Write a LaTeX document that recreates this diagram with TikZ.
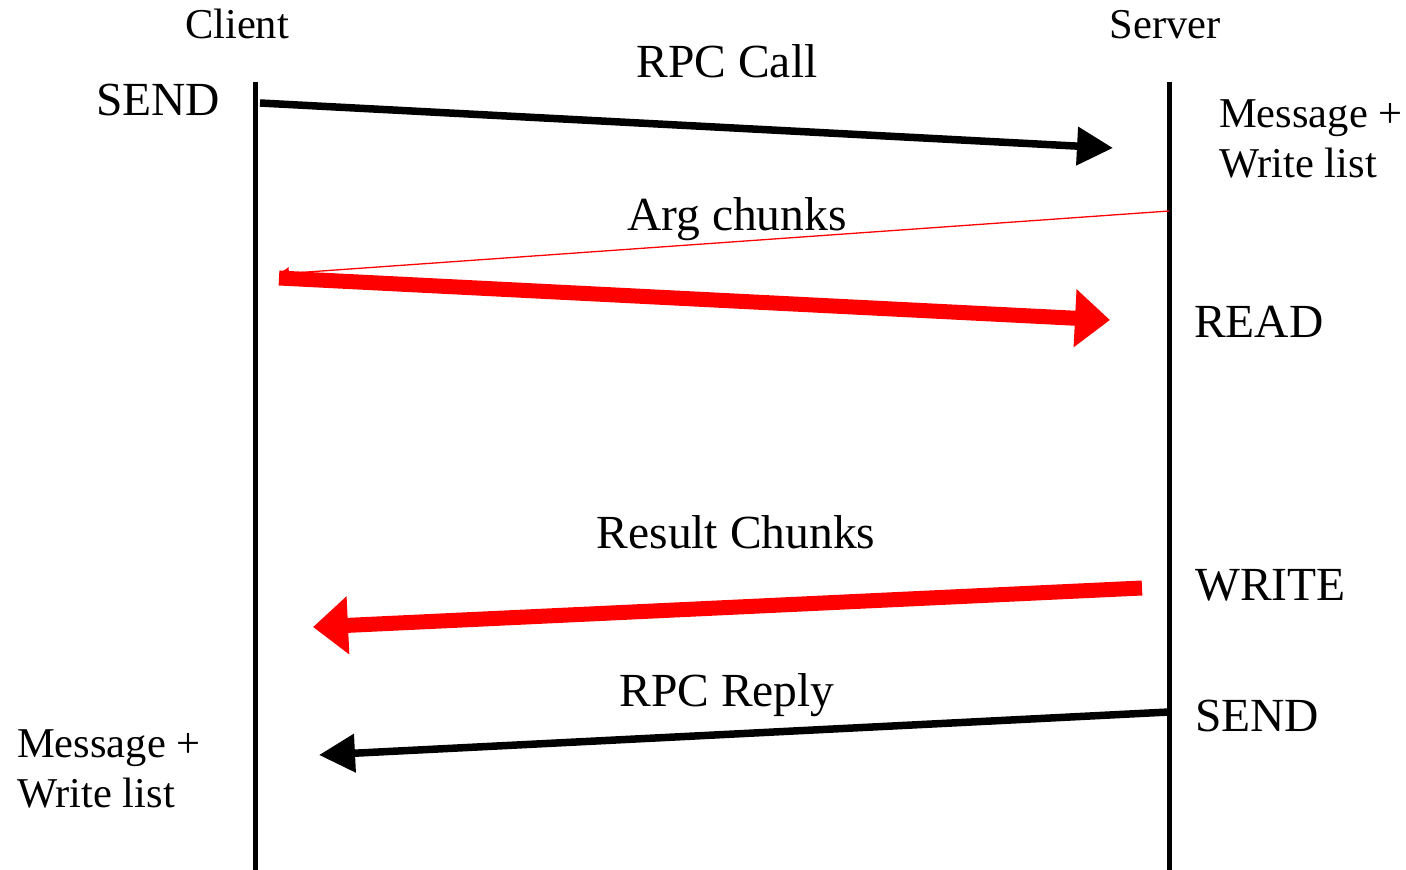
\documentclass[tikz,border=0pt]{standalone}
\usepackage{fontspec}
\setmainfont{Liberation Serif}
\usetikzlibrary{arrows.meta}
\begin{document}
\begin{tikzpicture}[x=1pt,y=-1pt,
  lifeline/.style={line width=5pt},
  blackmsg/.style={line width=7.5pt,-{Triangle[length=36pt,width=37pt]}},
  redmsg/.style={line width=15pt,red,-{Triangle[length=35pt,width=56pt]}},
  thinmsg/.style={line width=1.3pt,red,-{Triangle[length=10pt,width=12pt]}},
  big/.style={inner sep=0pt,font=\fontsize{47.5}{52}\selectfont},
  small/.style={inner sep=0pt,font=\fontsize{42.5}{49}\selectfont,align=left}]
\useasboundingbox (0,0) rectangle (1406,870);
% lifelines
\coordinate (ctop) at (255,82);
\coordinate (cbot) at (255,870);
\coordinate (stop) at (1169,82);
\coordinate (sbot) at (1169,870);
\draw[lifeline] (ctop) -- (cbot);
\draw[lifeline] (stop) -- (sbot);
% headers
\node[small,anchor=base] (client) at (237,38) {Client};
\node[small,anchor=base] (server) at (1165,38) {Server};
% message end points
\coordinate (a1) at (260,103);
\coordinate (a2) at (1113,148);
\coordinate (t1) at (1169,211);
\coordinate (t2) at (279,274);
\coordinate (r1) at (279,278);
\coordinate (r2) at (1110,320);
\coordinate (w1) at (1142,588);
\coordinate (w2) at (313,627);
\coordinate (p1) at (1169,712);
\coordinate (p2) at (319,755);
\draw[blackmsg] (a1) -- (a2);
\draw[thinmsg] (t1) -- (t2);
\draw[redmsg] (r1) -- (r2);
\draw[redmsg] (w1) -- (w2);
\draw[blackmsg] (p1) -- (p2);
% labels
\node[big,anchor=base] (lcall) at (727,77) {RPC Call};
\node[big,anchor=base west] (lsend1) at (96,115) {SEND};
\node[small,anchor=base west] (lmsg1) at (1219,127) {Message +};
\node[small,anchor=base west] (lwl1) at (1219,177) {Write list};
\node[big,anchor=base] (larg) at (737,230) {Arg chunks};
\node[big,anchor=base west] (lread) at (1194,337) {READ};
\node[big,anchor=base] (lres) at (736,548) {Result Chunks};
\node[big,anchor=base west] (lwrite) at (1195,600) {WRITE};
\node[big,anchor=base] (lreply) at (727,706) {RPC Reply};
\node[big,anchor=base west] (lsend2) at (1195,731) {SEND};
\node[small,anchor=base west] (lmsg2) at (17,757) {Message +};
\node[small,anchor=base west] (lwl2) at (17,807) {Write list};
\end{tikzpicture}
\end{document}
